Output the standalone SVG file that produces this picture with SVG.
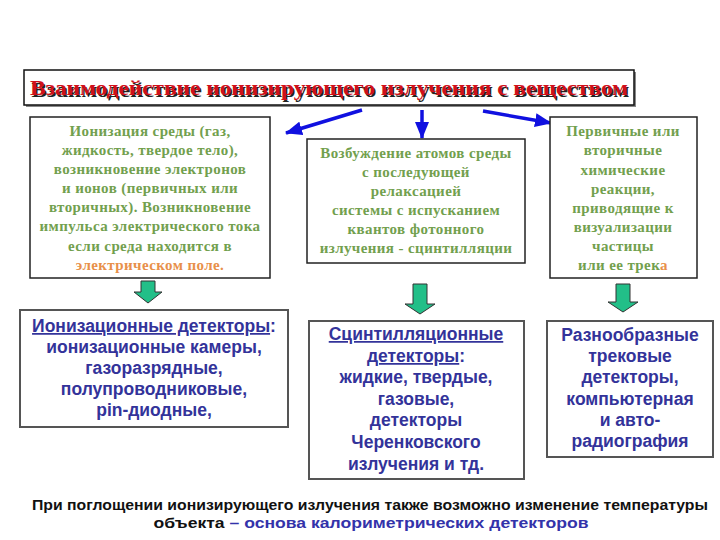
<svg xmlns="http://www.w3.org/2000/svg" width="720" height="540" viewBox="0 0 720 540">
<defs>
<style>
.box{fill:#fff;stroke:#222;stroke-width:1.5}
.box2{fill:#fff;stroke:#555;stroke-width:2}
.g{font-family:"Liberation Serif","Times New Roman",serif;font-weight:bold;font-size:15px;fill:#72a04e;text-anchor:middle;letter-spacing:0.4px}
.o{fill:#e8904a}
.b{font-family:"Liberation Sans",Arial,sans-serif;font-weight:bold;font-size:17.5px;fill:#33339a;text-anchor:middle}
.u{text-decoration:underline}
.conn{stroke:#1010e0;stroke-width:3.5;fill:none}
.garr{fill:#22bf88;stroke:#333;stroke-width:1}
.ttl{font-family:"Liberation Serif","Times New Roman",serif;font-weight:bold;font-size:22px;text-anchor:middle}
.ft{font-family:"Liberation Sans",Arial,sans-serif;font-weight:bold;font-size:15.5px;text-anchor:middle;fill:#111}
</style>
<marker id="ah" markerUnits="userSpaceOnUse" markerWidth="18" markerHeight="14" refX="16" refY="7" orient="auto">
<path d="M0,0 L17,7 L0,14 z" fill="#1010e0"/>
</marker>
</defs>
<rect width="720" height="540" fill="#fff"/>

<g id="title">
<rect x="26" y="72" width="610" height="35" fill="#888"/>
<rect x="24" y="70" width="610" height="35" fill="#fff" stroke="#111" stroke-width="1.5"/>
<text class="ttl" x="330.5" y="96.5" fill="#222" textLength="598" lengthAdjust="spacingAndGlyphs">Взаимодействие ионизирующего излучения с веществом</text>
<text class="ttl" x="329" y="95" fill="#d0101a" textLength="598" lengthAdjust="spacingAndGlyphs">Взаимодействие ионизирующего излучения с веществом</text>
</g>

<g id="connectors">
<line class="conn" x1="362" y1="110" x2="286" y2="133" marker-end="url(#ah)"/>
<line class="conn" x1="422" y1="110" x2="422" y2="138" marker-end="url(#ah)"/>
<line class="conn" x1="483" y1="111" x2="551" y2="123" marker-end="url(#ah)"/>
<polygon class="garr" points="141,281 155,281 155,292 162,292 148,303 134,292 141,292"/>
<polygon class="garr" points="413,284 427,284 427,304 435,304 420,314 405,304 413,304"/>
<polygon class="garr" points="616,284 630,284 630,302 638,302 623,312 608,302 616,302"/>
</g>

<g id="ionization">
<rect class="box" x="30" y="117" width="240" height="161"/>
<text class="g" x="150" y="136">Ионизация среды (газ,</text>
<text class="g" x="150" y="155">жидкость, твердое тело),</text>
<text class="g" x="150" y="174">возникновение электронов</text>
<text class="g" x="150" y="193">и ионов (первичных или</text>
<text class="g" x="150" y="212">вторичных). Возникновение</text>
<text class="g" x="150" y="231">импульса электрического тока</text>
<text class="g" x="150" y="251">если среда находится в</text>
<text class="g o" x="150" y="270">электрическом поле.</text>
</g>

<g id="excitation">
<rect class="box" x="307" y="139" width="218" height="124"/>
<text class="g" x="416" y="158">Возбуждение атомов среды</text>
<text class="g" x="416" y="177">с последующей</text>
<text class="g" x="416" y="196">релаксацией</text>
<text class="g" x="416" y="215">системы с испусканием</text>
<text class="g" x="416" y="234">квантов фотонного</text>
<text class="g" x="416" y="253">излучения - сцинтилляции</text>
</g>

<g id="chemical">
<rect class="box" x="550" y="117" width="147" height="161"/>
<text class="g" x="623" y="136">Первичные или</text>
<text class="g" x="623" y="155">вторичные</text>
<text class="g" x="623" y="175">химические</text>
<text class="g" x="623" y="194">реакции,</text>
<text class="g" x="623" y="213">приводящие к</text>
<text class="g" x="623" y="232">визуализации</text>
<text class="g" x="623" y="251">частицы</text>
<text class="g" x="623" y="270">или ее трек<tspan class="o">а</tspan></text>
</g>

<g id="ion-detectors">
<rect class="box2" x="20" y="310" width="268" height="117"/>
<text class="b" x="154" y="332"><tspan class="u">Ионизационные детекторы</tspan>:</text>
<text class="b" x="154" y="353">ионизационные камеры,</text>
<text class="b" x="154" y="374">газоразрядные,</text>
<text class="b" x="154" y="395">полупроводниковые,</text>
<text class="b" x="154" y="416">pin-диодные,</text>
</g>

<g id="scint-detectors">
<rect class="box2" x="309" y="321" width="215" height="158"/>
<text class="b u" x="416" y="340">Сцинтилляционные</text>
<text class="b" x="416" y="362"><tspan class="u">детекторы</tspan>:</text>
<text class="b" x="416" y="383">жидкие, твердые,</text>
<text class="b" x="416" y="405">газовые,</text>
<text class="b" x="416" y="426">детекторы</text>
<text class="b" x="416" y="448">Черенковского</text>
<text class="b" x="416" y="470">излучения и тд.</text>
</g>

<g id="track-detectors">
<rect class="box2" x="547" y="321" width="166" height="136"/>
<text class="b" x="630" y="341">Разнообразные</text>
<text class="b" x="630" y="362">трековые</text>
<text class="b" x="630" y="383">детекторы,</text>
<text class="b" x="630" y="405">компьютерная</text>
<text class="b" x="630" y="426">и авто-</text>
<text class="b" x="630" y="447">радиография</text>
</g>

<g id="footer">
<text class="ft" x="370" y="510" textLength="676" lengthAdjust="spacingAndGlyphs">При поглощении ионизирующего излучения также возможно изменение температуры</text>
<text class="ft" x="371" y="528" textLength="435" lengthAdjust="spacingAndGlyphs">объекта <tspan fill="#3333aa">– основа калориметрических детекторов</tspan></text>
</g>
</svg>
